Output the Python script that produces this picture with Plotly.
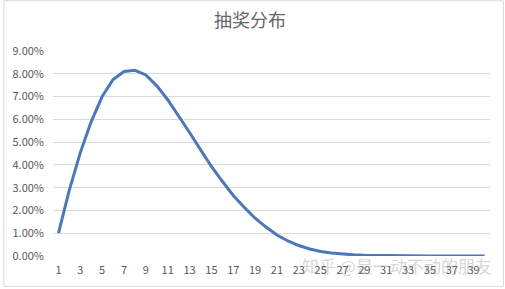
import plotly.graph_objects as go

# Data
draws = list(range(1, 41))
probability = [
    0.0100, 0.0290, 0.0454, 0.0590, 0.0700, 0.0775, 0.0810, 0.0815, 0.0795, 0.0747,
    0.0686, 0.0616, 0.0542, 0.0467, 0.0393, 0.0328, 0.0266, 0.0214, 0.0166, 0.0127,
    0.0092, 0.0066, 0.0046, 0.0031, 0.0020, 0.0013, 0.0008, 0.0005, 0.0003, 0.0002,
    0.0001, 0.00007, 0.00005, 0.00003, 0.00002, 0.00001, 0.00001, 0.0, 0.0, 0.0,
]
x_tick_labels = [str(i) for i in range(1, 40, 2)]
y_ticks = [i / 100 for i in range(0, 10)]
title_text = "抽奖分布"
watermark_text = "知乎 @是一动不动的朋友"

W, H = 505, 289
L, R, T, B = 50, 15, 51, 32
pw, ph = W - L - R, H - T - B

def px_x(px):
    return (px - L) / pw

def px_y(py):
    return (H - B - py) / ph

fig = go.Figure()
fig.add_trace(go.Scatter(
    x=draws, y=probability, mode="lines",
    line=dict(color="#4a78b8", width=3, shape="linear"),
    hoverinfo="skip", showlegend=False,
))

font_family = "Noto Sans CJK SC, Noto Sans, sans-serif"
fig.update_layout(
    width=W, height=H,
    margin=dict(l=L, r=R, t=T, b=B),
    paper_bgcolor="white", plot_bgcolor="white",
    title=dict(text=title_text, x=0.495, xanchor="center", y=1 - 21 / H, yanchor="middle",
               font=dict(family=font_family, size=18, color="#666666")),
    xaxis=dict(
        range=[0.5, 40.5], tickmode="array",
        tickvals=list(range(1, 40, 2)), ticktext=x_tick_labels,
        showgrid=False, zeroline=False, showline=False, ticks="",
        tickfont=dict(family=font_family, size=11, color="#595959"),
        ticklabelstandoff=6, fixedrange=True,
    ),
    yaxis=dict(
        range=[0, 0.09], tickmode="array", tickvals=y_ticks,
        tickformat=".2%", showgrid=True, gridcolor="#d9d9d9", gridwidth=1,
        zeroline=False, showline=False, ticks="",
        tickfont=dict(family=font_family, size=11, color="#595959"),
        ticklabelstandoff=8, fixedrange=True,
    ),
    shapes=[dict(
        type="rect", xref="paper", yref="paper",
        x0=px_x(0.5), x1=px_x(W - 1.5), y0=px_y(H - 1.5), y1=px_y(0.5),
        line=dict(color="#d9d9d9", width=1), fillcolor="rgba(0,0,0,0)", layer="below",
    )],
    annotations=[dict(
        text=watermark_text, xref="paper", yref="paper",
        x=px_x(494), y=px_y(267), xanchor="right", yanchor="middle",
        showarrow=False,
        font=dict(family=font_family, size=17, color="rgba(150,150,150,0.4)"),
    )],
)

fig.write_html("out.html")
